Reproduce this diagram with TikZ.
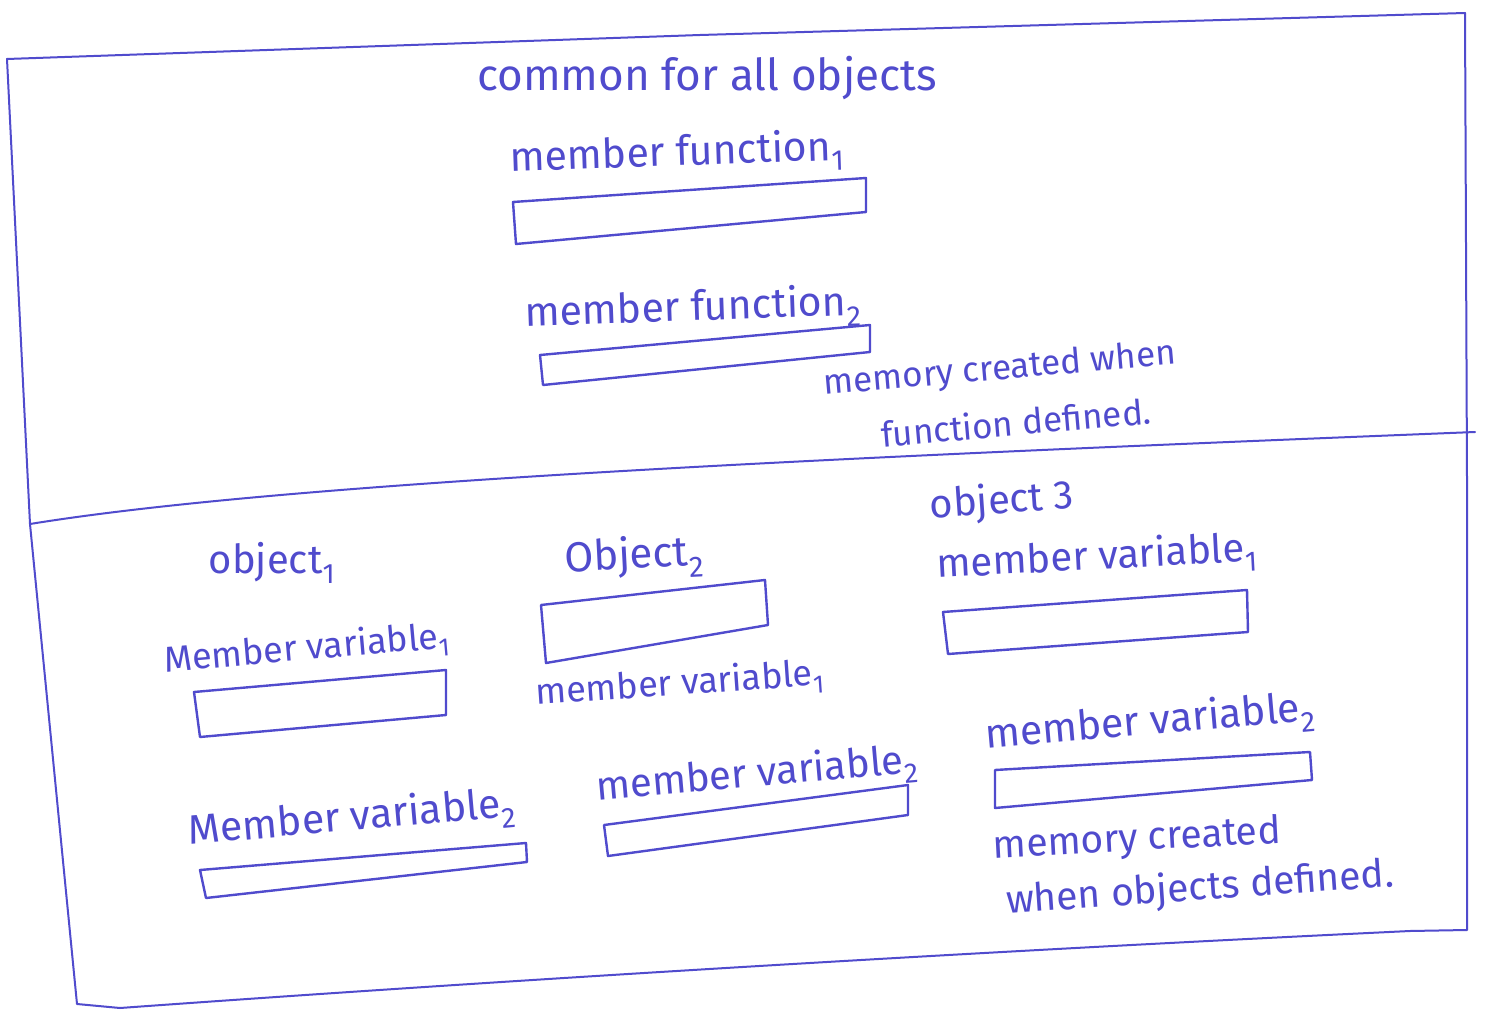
\documentclass[tikz,border=0pt]{standalone}
\usepackage{fontspec}
\setmainfont{Fira Sans}
\definecolor{ink}{RGB}{80,75,205}
\begin{document}
\begin{tikzpicture}[x=1pt,y=-1pt,
  frame/.style={draw=ink,line width=2pt,line join=round,line cap=round},
  slot/.style={draw=ink,line width=2.4pt,line join=round,line cap=round},
  hand/.style={text=ink,inner sep=0pt,font=\fontsize{#1}{#1}\selectfont},
  hand/.default=34]
\useasboundingbox[fill=white] (0,0) rectangle (1486,1019);
% outer frame
\draw[frame] (7,59) -- (700,35) -- (1465,13) -- (1467,480) -- (1467,930) -- (1410,931)
  .. controls (800,960) and (300,995) .. (120,1008) -- (77,1004) -- (30,524) -- cycle;
% divider
\coordinate (dl) at (30,524);
\coordinate (dr) at (1475,432);
\draw[frame] (dl) .. controls (300,480) and (900,455) .. (dr);
% upper part
\node[hand=44] (common) at (707,78) {common for all objects};
\node[hand=41,rotate=2] (mf1) at (677,155) {member function\textsubscript{1}};
\draw[slot] (513,202) -- (866,178) -- (866,212) -- (516,244) -- cycle;
\node[hand=41,rotate=2] (mf2) at (693,310) {member function\textsubscript{2}};
\draw[slot] (540,355) -- (870,325) -- (870,352) -- (543,385) -- cycle;
\node[hand=35,rotate=5] (memfa) at (1000,370) {memory created when};
\node[hand=35,rotate=5] (memfb) at (1016,422) {function defined.};
% objects
\node[hand=40,rotate=4] (o3) at (1002,502) {object 3};
\node[hand=40,rotate=3] (o3v1) at (1097,559) {member variable\textsubscript{1}};
\draw[slot] (943,612) -- (1247,590) -- (1248,632) -- (948,654) -- cycle;
\node[hand=40] (o1) at (272,563) {object\textsubscript{1}};
\node[hand=42,rotate=3] (o2) at (634,558) {Object\textsubscript{2}};
\draw[slot] (541,605) -- (765,580) -- (768,625) -- (546,663) -- cycle;
\node[hand=36,rotate=5] (o1v1) at (307,650) {Member variable\textsubscript{1}};
\draw[slot] (194,692) -- (446,670) -- (446,715) -- (200,737) -- cycle;
\node[hand=36,rotate=4] (o2v1) at (680,685) {member variable\textsubscript{1}};
\node[hand=41,rotate=5] (o3v2) at (1150,724) {member variable\textsubscript{2}};
\draw[slot] (995,770) -- (1310,752) -- (1312,780) -- (995,808) -- cycle;
\node[hand=40,rotate=5] (o2v2) at (757,776) {member variable\textsubscript{2}};
\draw[slot] (604,825) -- (908,785) -- (908,815) -- (608,856) -- cycle;
\node[hand=41,rotate=5] (o1v2) at (352,820) {Member variable\textsubscript{2}};
\draw[slot] (200,870) -- (526,843) -- (527,862) -- (206,898) -- cycle;
\node[hand=39,rotate=3] (memoa) at (1137,840) {memory created};
\node[hand=39,rotate=4] (memob) at (1200,889) {when objects defined.};
\end{tikzpicture}
\end{document}
